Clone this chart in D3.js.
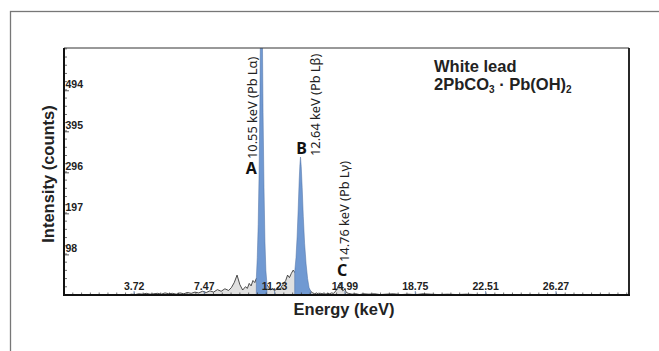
<!doctype html>
<html>
<head>
<meta charset="utf-8">
<style>
  body { margin: 0; background: #fff; }
  svg { display: block; }
  .tick text { font-family: "Liberation Sans Narrow", "Liberation Sans", sans-serif; font-weight: bold; font-size: 10.5px; fill: #222; }
</style>
</head>
<body>
<div class="chart"></div>
<script src="https://d3js.org/d3.v7.min.js"></script>
<script>
// tick labels as printed on the instrument plot
const xTickLabels = [3.72, 7.47, 11.23, 14.99, 18.75, 22.51, 26.27];
const yTickLabels = [98, 197, 296, 395, 494];

// background spectrum (keV, counts)
const specEnergy = [3.4, 3.6, 3.8, 4.0, 4.2, 4.4, 4.6, 4.8, 5.0, 5.2, 5.4, 5.6, 5.8, 6.0, 6.2, 6.4, 6.6, 6.8, 7.0, 7.2,
  7.4, 7.6, 7.8, 8.0, 8.2, 8.4, 8.6, 8.8, 8.95, 9.1, 9.25, 9.4, 9.55, 9.7, 9.8, 9.9, 10.0, 10.1, 10.2, 10.28,
  10.85, 10.95, 11.05, 11.15, 11.25, 11.35, 11.45, 11.55, 11.65, 11.75, 11.85, 11.95, 12.05, 12.15, 12.25, 12.33,
  13.2, 13.3, 13.4, 13.5, 13.6, 13.7, 13.8, 13.9, 14.0, 14.1, 14.2, 14.3, 14.4, 14.5, 14.6, 14.7, 14.76, 14.82, 14.9,
  15.0, 15.1, 15.2, 15.4, 15.6, 15.8, 16.0, 16.3, 16.6, 16.9, 17.2, 17.6, 18.0, 18.4, 18.8, 19.2, 19.6, 20.0, 20.5,
  21.0, 21.5, 22.0, 23.0, 24.0, 25.0, 26.0, 27.0, 28.0, 29.0, 30.0];
const specCounts = [0, 2, 1, 3, 2, 4, 2, 3, 4, 2, 5, 3, 4, 2, 5, 3, 6, 4, 7, 5,
  9, 6, 10, 7, 13, 9, 15, 11, 18, 30, 48, 25, 12, 20, 16, 28, 22, 35, 30, 40,
  25, 18, 12, 16, 10, 14, 18, 13, 22, 28, 35, 48, 42, 52, 60, 55,
  8, 5, 3, 5, 2, 4, 3, 5, 2, 4, 3, 5, 4, 8, 15, 26, 30, 22, 10,
  14, 6, 4, 2, 3, 1, 3, 2, 3, 1, 2, 3, 1, 2, 1, 3, 2, 1, 2,
  1, 2, 1, 1, 1, 1, 1, 1, 1, 0.5, 0.5];

// Pb L alpha peak (A), runs off the top of the plot
const peakAEnergy = [10.28, 10.33, 10.38, 10.43, 10.47, 10.5, 10.53, 10.55, 10.57, 10.6, 10.64, 10.69, 10.74, 10.79, 10.85];
const peakACounts = [40, 90, 170, 300, 460, 650, 950, 1100, 950, 650, 440, 260, 130, 60, 25];

// Pb L beta peak (B)
const peakBEnergy = [12.33, 12.4, 12.46, 12.52, 12.57, 12.61, 12.64, 12.68, 12.73, 12.79, 12.86, 12.94, 13.02, 13.1, 13.2];
const peakBCounts = [55, 90, 140, 210, 275, 315, 333, 310, 260, 190, 125, 75, 40, 18, 8];

const peakNames = ["A", "B", "C"];
const peakEnergies = [10.55, 12.64, 14.76];
const peakTexts = ["10.55 keV (Pb Lα)", "12.64 keV (Pb Lβ)", "14.76 keV (Pb Lγ)"];

const width = 659, height = 351;
const pLeft = 64, pRight = 629, pTop = 48, pBottom = 295;

const svg = d3.select(".chart").append("svg")
  .attr("width", width).attr("height", height);

// outer frame
svg.append("rect")
  .attr("x", 10.5).attr("y", 11.5).attr("width", 700).attr("height", 400)
  .attr("fill", "none").attr("stroke", "#777").attr("stroke-width", 1.3);

const x = d3.scaleLinear().domain([0, 30.2]).range([pLeft, pRight]);
const y = d3.scaleLinear().domain([0, 596]).range([pBottom, pTop]);

svg.append("clipPath").attr("id", "plot")
  .append("rect").attr("x", pLeft).attr("y", pTop).attr("width", pRight - pLeft).attr("height", pBottom - pTop);

const spec = specEnergy.map((e, i) => ({ e: e, c: specCounts[i] }));
const peakA = peakAEnergy.map((e, i) => ({ e: e, c: peakACounts[i] }));
const peakB = peakBEnergy.map((e, i) => ({ e: e, c: peakBCounts[i] }));

const area = d3.area().x(d => x(d.e)).y0(y(0)).y1(d => y(d.c));
const line = d3.line().x(d => x(d.e)).y(d => y(d.c));

const g = svg.append("g").attr("clip-path", "url(#plot)");
g.append("path").attr("d", area(spec)).attr("fill", "#e0e0e0");
g.append("path").attr("d", line(spec)).attr("fill", "none").attr("stroke", "#222").attr("stroke-width", 0.8);
[peakA, peakB].forEach(p => {
  g.append("path").attr("d", area(p))
    .attr("fill", "#7099d2").attr("stroke", "#4d6fa3").attr("stroke-width", 0.5);
});

// minor ticks
const xMinor = d3.range(0, 30.2, 3.76 / 8);
svg.append("g").selectAll("line").data(xMinor).join("line")
  .attr("x1", d => x(d)).attr("x2", d => x(d))
  .attr("y1", pBottom).attr("y2", pBottom - 2.5)
  .attr("stroke", "#333").attr("stroke-width", 0.7);
const yMinor = d3.range(0, 596, 99 / 5);
svg.append("g").selectAll("line").data(yMinor).join("line")
  .attr("x1", pLeft).attr("x2", pLeft + 3)
  .attr("y1", d => y(d)).attr("y2", d => y(d))
  .attr("stroke", "#333").attr("stroke-width", 0.7);

// axes
const xAxis = svg.append("g")
  .attr("transform", "translate(0," + pBottom + ")")
  .call(d3.axisBottom(x).tickValues(xTickLabels).tickFormat(d3.format(".2f")).tickSizeInner(-4).tickSizeOuter(0));
xAxis.select(".domain").remove();
xAxis.selectAll(".tick line").attr("stroke", "#5d7fb0").attr("stroke-width", 0.8);
xAxis.selectAll(".tick text").attr("y", -5).attr("dy", 0);

const yAxis = svg.append("g")
  .attr("transform", "translate(" + pLeft + ",0)")
  .call(d3.axisLeft(y).tickValues(yTickLabels).tickSizeInner(-5).tickSizeOuter(0));
yAxis.select(".domain").remove();
yAxis.selectAll(".tick line").attr("stroke", "#333").attr("stroke-width", 0.8);
yAxis.selectAll(".tick text").attr("x", 1.5).attr("dy", -3).attr("text-anchor", "start");

// plot frame
svg.append("line").attr("x1", pLeft).attr("x2", pRight).attr("y1", pTop).attr("y2", pTop)
  .attr("stroke", "#333").attr("stroke-width", 1);
svg.append("line").attr("x1", pRight).attr("x2", pRight).attr("y1", pTop).attr("y2", pBottom + 1)
  .attr("stroke", "#111").attr("stroke-width", 1.8);
svg.append("line").attr("x1", pLeft).attr("x2", pLeft).attr("y1", pTop).attr("y2", pBottom + 1)
  .attr("stroke", "#111").attr("stroke-width", 2);
svg.append("line").attr("x1", pLeft - 1).attr("x2", pRight + 1).attr("y1", pBottom).attr("y2", pBottom)
  .attr("stroke", "#111").attr("stroke-width", 2);

// peak annotations
const letterOff = [[-10, 174], [1, 154], [2, 276]];
const textOff = [[-4, 159], [20, 156], [9, 262]];
peakNames.forEach((n, i) => {
  svg.append("text")
    .attr("x", x(peakEnergies[i]) + letterOff[i][0]).attr("y", letterOff[i][1])
    .attr("text-anchor", "middle")
    .style("font-family", "'Noto Sans', sans-serif").style("font-weight", "bold").style("font-size", "16px")
    .attr("fill", "#111").text(n);
  svg.append("text")
    .attr("transform", "translate(" + (x(peakEnergies[i]) + textOff[i][0]) + "," + textOff[i][1] + ") rotate(-90)")
    .style("font-family", "'Noto Sans', sans-serif").style("font-size", "12.8px")
    .attr("fill", "#222").text(peakTexts[i]);
});

// sample title
const ttl = svg.append("g").style("font-family", "'Liberation Sans', Arial, sans-serif")
  .style("font-weight", "bold").style("font-size", "16.5px").attr("fill", "#222");
ttl.append("text").attr("x", 434).attr("y", 72).text("White lead");
const t2 = ttl.append("text").attr("x", 434).attr("y", 90);
t2.append("tspan").text("2PbCO");
t2.append("tspan").attr("dy", 3).style("font-size", "10px").text("3");
t2.append("tspan").attr("dy", -3).text(" · Pb(OH)");
t2.append("tspan").attr("dy", 3).style("font-size", "10px").text("2");

// axis titles
svg.append("text")
  .attr("x", 344).attr("y", 315).attr("text-anchor", "middle")
  .style("font-family", "'Liberation Sans', Arial, sans-serif").style("font-weight", "bold").style("font-size", "16.5px")
  .attr("fill", "#222").text("Energy (keV)");
svg.append("text")
  .attr("transform", "translate(54,174) rotate(-90)").attr("text-anchor", "middle")
  .style("font-family", "'Liberation Sans', Arial, sans-serif").style("font-weight", "bold").style("font-size", "16.5px")
  .attr("fill", "#222").text("Intensity (counts)");
</script>
</body>
</html>
